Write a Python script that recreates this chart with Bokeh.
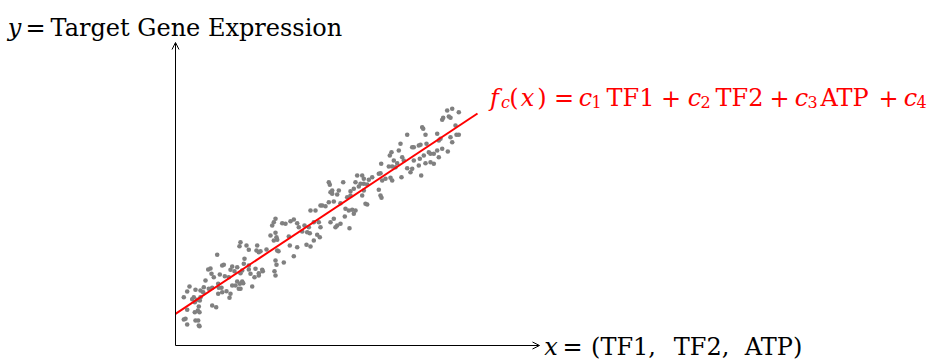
from bokeh.plotting import figure
from bokeh.models import Range1d, Arrow, OpenHead, Label
from bokeh.embed import file_html
from bokeh.resources import INLINE

# ---- data ----
pts_x = [13.5,14.0,14.67,15.0,17.67,17.83,18.0,17.33,16.93,16.5,10.0,9.83,9.67,10.67,11.0,11.5,11.83,12.17,12.33,12.67,
         12.9,13.17,13.33,13.43,13.83,14.33,14.5,14.17,14.43,15.5,15.83,16.17,16.0,16.5,17.4,9.5,10.0,10.1,9.83,10.17,
         6.5,6.4,7.1,7.33,8.17,8.1,8.5,8.33,9.1,10.17,10.3,11.33,11.43,12.17,11.83,10.83,13.1,13.5,13.83,4.17,
         3.5,3.27,4.67,4.83,4.43,3.83,3.0,2.83,2.77,2.5,3.33,5.67,6.17,5.9,5.5,6.5,6.9,6.83,6.67,7.5,
         7.33,8.0,7.9,8.33,8.67,10.0,10.1,9.9,10.0,6.17,6.43,6.67,6.33,6.0,6.77,5.67,5.1,5.5,5.4,6.5,
         7.67,4.33,4.27,4.6,4.67,1.83,1.67,1.93,2.17,2.43,2.33,2.23,1.93,3.67,4.07,0.83,1.17,1.4,0.83,1.0,
         1.17,2.0,2.33,1.17,
         2.0,2.5,3.67,3.6,4.27,4.93,5.33,2.4,2.27,2.4,8.33,8.73,7.33,
         15.33,15.43,16.77,15.5,15.67,16.17,17.17,14.5,15.33,15.83,
         27.17,27.67,28.33,26.77,26.67,27.33,27.5,28.0,28.1,28.33,27.5,27.67,27.23,26.33,26.17,26.5,24.67,24.77,25.0,23.17,
         24.33,24.5,25.1,25.5,25.83,26.17,26.67,23.67,23.83,22.5,22.33,22.67,22.83,23.83,24.43,24.33,24.83,25.33,25.0,25.5,
         25.83,26.33,23.67,24.57,21.6,21.43,21.83,22.17,20.57,21.33,21.67,22.0,22.6,23.17,23.5,21.67,21.5,20.5,20.33,19.67,
         19.33,18.83,18.67,18.17,18.83,18.5,19.17,18.33,18.0,17.83,17.5,18.83,18.67,20.33,20.5,20.6,20.67,21.0,16.33,17.0,
         19.0,19.17,17.5,15.67]
pts_y = [13.5,13.5,14.0,13.93,13.57,13.17,13.5,13.5,12.9,14.23,12.67,12.33,12.0,12.23,12.17,12.43,12.6,12.23,11.83,11.4,
         12.0,11.33,11.83,11.23,12.33,12.33,11.83,11.07,10.83,12.33,12.67,12.0,11.83,12.17,11.73,11.0,11.27,10.83,10.5,10.57,
         10.33,9.93,10.0,9.57,10.0,9.5,9.43,9.33,9.6,9.5,9.43,10.9,10.0,9.83,8.93,8.3,10.07,9.9,10.5,9.07,
         7.7,7.6,8.0,8.07,7.1,6.83,6.5,5.83,5.33,5.5,5.67,7.9,7.83,7.43,7.57,7.23,8.67,8.17,7.5,7.17,
         8.0,7.67,6.83,7.23,7.57,8.5,8.07,7.43,7.0,6.4,6.17,6.4,5.67,6.0,6.23,6.0,5.43,5.17,4.77,5.67,
         5.9,5.77,5.17,5.77,5.33,4.83,4.63,4.33,4.57,4.5,3.9,3.5,3.33,4.0,3.83,4.83,5.4,5.9,2.6,2.67,
         2.1,2.5,2.0,3.57,
         5.57,4.83,5.77,7.17,6.17,6.93,6.83,3.33,2.5,1.93,7.0,7.43,7.6,
         16.33,16.07,16.33,15.33,15.17,15.1,14.83,14.0,14.33,14.4,
         23.5,23.67,23.33,22.77,22.57,22.9,22.77,22.0,21.07,21.07,20.83,20.33,19.4,20.5,21.17,20.67,21.83,21.67,21.07,21.07,
         20.0,20.07,20.17,19.17,19.17,19.5,19.67,19.83,19.83,20.17,19.5,18.83,18.5,18.5,18.67,18.0,19.0,19.33,18.23,18.33,
         18.17,18.83,17.67,17.0,19.33,19.0,18.5,18.23,18.17,17.9,17.9,17.83,16.83,17.73,17.33,16.5,16.77,17.23,17.17,16.83,
         16.57,16.67,17.0,17.0,16.17,16.17,16.1,15.9,16.33,15.67,15.43,15.5,15.0,15.57,15.0,14.77,16.5,16.67,15.5,13.67,
         14.17,14.1,15.0,15.5]

fit_x = [0.0, 30.2]
fit_y = [3.17, 23.2]

x_axis_end = 36.4
y_axis_end = 30.3

FONT = "DejaVu Serif"
RED = "#ff0000"

p = figure(width=931, height=360, output_backend="svg", toolbar_location=None,
           x_range=Range1d(-17.5, 75.6), y_range=Range1d(-1.5, 34.5),
           x_axis_type=None, y_axis_type=None, min_border=0)
p.outline_line_color = None
p.background_fill_color = "white"
p.border_fill_color = "white"

# axes with arrows
p.add_layout(Arrow(end=OpenHead(size=7, line_width=1, line_color="black"),
                   x_start=0, y_start=0, x_end=x_axis_end, y_end=0,
                   line_width=1, line_color="black"))
p.add_layout(Arrow(end=OpenHead(size=7, line_width=1, line_color="black"),
                   x_start=0, y_start=0, x_end=0, y_end=y_axis_end,
                   line_width=1, line_color="black"))

p.scatter(pts_x, pts_y, size=4.6, fill_color="#808080", line_color=None)
p.line(fit_x, fit_y, line_color=RED, line_width=2)

def put(txt, x, y, size="24px", style="normal", color="black", align="center"):
    p.add_layout(Label(x=x, y=y, text=txt, text_font=FONT, text_font_size=size,
                       text_font_style=style, text_color=color,
                       text_baseline="alphabetic", text_align=align))

# y label
YB = 31.75
put("y", -16.1, YB, style="italic")
put("=", -14.0, YB)
put("Target Gene Expression", -12.5, YB, align="left")

# x label
XB = -0.1
put("x", 37.55, XB, style="italic")
put("=", 39.7, XB)
put("(TF1,", 44.8, XB)
put("TF2,", 52.6, XB)
put("ATP)", 59.8, XB)

# red formula
FB = 24.8
SB = 24.35
SUB = "16px"
put("f", 31.9, FB, style="italic", color=RED)
put("c", 33.0, SB, size=SUB, style="italic", color=RED)
put("(", 33.85, FB, color=RED)
put("x", 35.2, FB, style="italic", color=RED)
put(")", 36.65, FB, color=RED)
put("=", 38.85, FB, color=RED)
put("c", 41.0, FB, style="italic", color=RED)
put("1", 42.1, SB, size=SUB, color=RED)
put("TF1", 45.5, FB, color=RED)
put("+", 49.55, FB, color=RED)
put("c", 51.9, FB, style="italic", color=RED)
put("2", 53.0, SB, size=SUB, color=RED)
put("TF2", 56.4, FB, color=RED)
put("+", 60.4, FB, color=RED)
put("c", 62.6, FB, style="italic", color=RED)
put("3", 63.7, SB, size=SUB, color=RED)
put("ATP", 66.9, FB, color=RED)
put("+", 71.3, FB, color=RED)
put("c", 73.5, FB, style="italic", color=RED)
put("4", 74.6, SB, size=SUB, color=RED)

open("out.html", "w").write(file_html(p, INLINE))
